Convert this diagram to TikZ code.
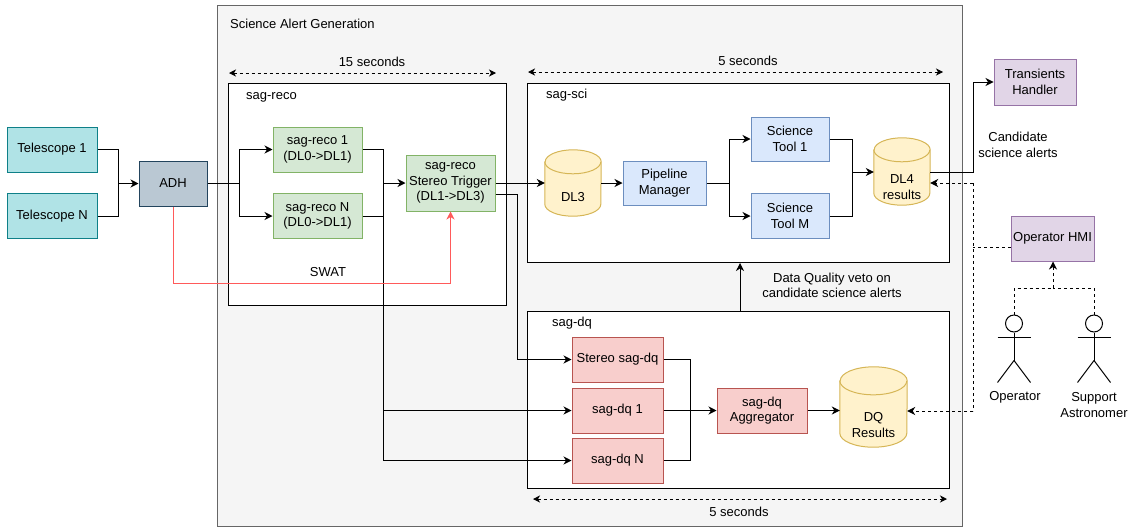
\documentclass[tikz,border=0pt]{standalone}
\usepackage{fontspec}
\setmainfont{Liberation Sans}
\usetikzlibrary{arrows.meta,calc}
\definecolor{telF}{HTML}{B0E3E6}
\definecolor{telD}{HTML}{0E8088}
\definecolor{adhF}{HTML}{BAC8D3}
\definecolor{adhD}{HTML}{23445D}
\definecolor{grF}{HTML}{D5E8D4}
\definecolor{grD}{HTML}{82B366}
\definecolor{blF}{HTML}{DAE8FC}
\definecolor{blD}{HTML}{6C8EBF}
\definecolor{yeF}{HTML}{FFF2CC}
\definecolor{yeD}{HTML}{D6B656}
\definecolor{reF}{HTML}{F8CECC}
\definecolor{reD}{HTML}{B85450}
\definecolor{puF}{HTML}{E1D5E7}
\definecolor{puD}{HTML}{9673A6}
\definecolor{outF}{HTML}{F5F5F5}
\definecolor{outD}{HTML}{666666}
\definecolor{swatC}{HTML}{FF5A5A}
\newcommand\cylpath[3]{%
  \draw[cylstyle] ($(#1.north west)+(0,#3)$) -- ($(#1.south west)+(0,-#3)$)
    arc[start angle=180,end angle=360,x radius=#2pt,y radius=#3pt]
    -- ($(#1.north east)+(0,#3)$)
    arc[start angle=0,end angle=180,x radius=#2pt,y radius=#3pt] -- cycle;
  \draw[cylstyle,fill=none] ($(#1.north west)+(0,#3)$)
    arc[start angle=180,end angle=360,x radius=#2pt,y radius=#3pt];}
\begin{document}
\begin{tikzpicture}[x=1pt,y=-1pt,
  every node/.style={font=\fontsize{13}{15.5}\selectfont},
  box/.style={draw, line width=1pt, inner sep=0pt, align=center},
  tel/.style={box, fill=telF, draw=telD},
  adhs/.style={box, fill=adhF, draw=adhD},
  grn/.style={box, fill=grF, draw=grD},
  blu/.style={box, fill=blF, draw=blD},
  red/.style={box, fill=reF, draw=reD},
  pur/.style={box, fill=puF, draw=puD},
  cont/.style={draw=black, line width=1pt, fill=white, inner sep=0pt, anchor=north west},
  outer/.style={draw=outD, line width=1pt, fill=outF, inner sep=0pt, anchor=north west},
  cylbox/.style={inner sep=0pt, draw=none},
  cylstyle/.style={draw=yeD, fill=yeF, line width=1pt},
  lbl/.style={inner sep=0pt, align=center},
  line/.style={draw=black, line width=1pt},
  flow/.style={line, -{Stealth[length=8pt,width=8pt,inset=2.5pt]}},
  dashl/.style={line, dash pattern=on 3pt off 3pt},
  dashflow/.style={dashl, -{Stealth[length=8pt,width=8pt,inset=2.5pt]}},
  dimarrow/.style={line, dash pattern=on 3pt off 3pt, {Stealth[length=7pt,width=7pt,inset=2pt]}-{Stealth[length=7pt,width=7pt,inset=2pt]}},
  swat/.style={draw=swatC, line width=1pt, -{Stealth[length=8pt,width=8pt,inset=2.5pt]}},
  actor/.style={line width=1pt, draw=black},
]
\useasboundingbox (0,0) rectangle (1134,528);

% containers
\node[outer, minimum width=745pt, minimum height=521pt] (sag) at (217,5) {};
\node[lbl, anchor=west] (sagt) at (230,24) {Science Alert Generation};
\node[cont, minimum width=278pt, minimum height=222pt] (sagreco) at (228,83) {};
\node[lbl, anchor=west] (sagrecot) at (246,97) {sag-reco};
\node[cont, minimum width=422pt, minimum height=179pt] (sagsci) at (527,83) {};
\node[lbl, anchor=west] (sagscit) at (546,95) {sag-sci};
\node[cont, minimum width=422pt, minimum height=177pt] (sagdq) at (527,311) {};
\node[lbl, anchor=west] (sagdqt) at (552,323) {sag-dq};

% duration arrows
\coordinate (d1a) at (229,73); \coordinate (d1b) at (496,73);
\draw[dimarrow] (d1a) -- (d1b);
\node[lbl] (d1t) at (372,62) {15 seconds};
\coordinate (d2a) at (528,72); \coordinate (d2b) at (943,72);
\draw[dimarrow] (d2a) -- (d2b);
\node[lbl] (d2t) at (748,61) {5 seconds};
\coordinate (d3a) at (533,499); \coordinate (d3b) at (947,499);
\draw[dimarrow] (d3a) -- (d3b);
\node[lbl] (d3t) at (739,512) {5 seconds};

% left side
\node[tel, minimum width=90pt, minimum height=45pt] (tel1) at (52,149.5) {Telescope 1};
\node[tel, minimum width=90pt, minimum height=45pt] (telN) at (52,216) {Telescope N};
\node[adhs, minimum width=68pt, minimum height=45pt] (adh) at (173,183.5) {ADH};

% sag-reco
\node[grn, minimum width=89pt, minimum height=45pt] (reco1) at (317.5,149.5) {sag-reco 1\\(DL0->DL1)};
\node[grn, minimum width=89pt, minimum height=45pt] (recoN) at (317.5,216) {sag-reco N\\(DL0->DL1)};
\node[grn, minimum width=89pt, minimum height=56pt] (trig) at (450.5,183) {sag-reco\\Stereo Trigger\\(DL1->DL3)};

% sag-sci
\node[cylbox, minimum width=56pt, minimum height=66pt] (dl3) at (573,183) {};
\cylpath{dl3}{28}{12}
\node[lbl] (dl3t) at (573,197) {DL3};
\node[blu, minimum width=83pt, minimum height=44pt] (pm) at (664.5,183) {Pipeline\\Manager};
\node[blu, minimum width=78pt, minimum height=44pt] (st1) at (790,139) {Science\\Tool 1};
\node[blu, minimum width=78pt, minimum height=45pt] (stM) at (790,216) {Science\\Tool M};
\node[cylbox, minimum width=56pt, minimum height=67pt] (dl4) at (902,171.5) {};
\cylpath{dl4}{28}{12}
\node[lbl] (dl4t) at (902,187) {DL4\\results};

% sag-dq
\node[red, minimum width=91pt, minimum height=45pt] (stereo) at (617.5,359.5) {Stereo sag-dq};
\node[red, minimum width=91pt, minimum height=45pt] (dq1) at (617.5,410.5) {sag-dq 1};
\node[red, minimum width=91pt, minimum height=45pt] (dqN) at (617.5,460.5) {sag-dq N};
\node[red, minimum width=90pt, minimum height=45pt] (agg) at (762,410.5) {sag-dq\\Aggregator};
\node[cylbox, minimum width=67pt, minimum height=80pt] (dqr) at (873.5,407) {};
\cylpath{dqr}{33.5}{14}
\node[lbl] (dqrt) at (873.5,425) {DQ\\Results};

% right side
\node[pur, minimum width=82pt, minimum height=46pt] (th) at (1035,82) {Transients\\Handler};
\node[pur, minimum width=83pt, minimum height=45pt] (hmi) at (1052.5,238.5) {Operator HMI};
\node[lbl] (candt) at (1018,145) {Candidate\\science alerts};
\node[lbl] (vetot) at (832,285.5) {Data Quality veto on\\candidate science alerts};

% actors
\node[draw, circle, line width=1pt, minimum size=17pt, inner sep=0pt] (ophead) at (1014,323.5) {};
\node[draw, circle, line width=1pt, minimum size=17pt, inner sep=0pt] (sahead) at (1094,323.5) {};
\foreach \h in {ophead,sahead}{
  \draw[actor] (\h.south) -- ++(0,28) coordinate (\h hip);
  \draw[actor] ($(\h.south)+(-16.5,5)$) -- ++(33,0);
  \draw[actor] (\h hip) -- ++(-16.5,22);
  \draw[actor] (\h hip) -- ++(16.5,22);
}
\node[lbl] (opt) at (1015,397) {Operator};
\node[lbl] (sat) at (1094,405) {Support\\Astronomer};

% connectors left
\coordinate (j1) at (118,183.5);
\draw[line] (tel1.east) -| (j1);
\draw[line] (telN.east) -| (j1);
\draw[flow] (j1) -- (adh.west);
\coordinate (j2) at (239,183.5);
\draw[line] (adh.east) -- (j2);
\draw[flow] (j2) |- (reco1.west);
\draw[flow] (j2) |- (recoN.west);
\coordinate (j3) at (383,183);
\draw[line] (reco1.east) -| (j3);
\draw[line] (recoN.east) -| (j3);
\draw[flow] (j3) -- (trig.west);
\draw[flow] (j3) |- (dq1.west);
\draw[flow] (j3) |- (dqN.west);
% SWAT
\draw[swat] (adh.south) -- ++(0,77) -| (trig.south);
\node[lbl] (swatt) at (328,272) {SWAT};
% trigger outputs
\draw[flow] (trig.east) -- (dl3.west);
\coordinate (t2) at ($(trig.east)+(0,11)$);
\coordinate (t3) at (517,194);
\draw[flow] (t2) -- (t3) |- (stereo.west);
% sag-sci internals
\draw[flow] (dl3.east) -- (pm.west);
\coordinate (j4) at (729,183);
\draw[line] (pm.east) -- (j4);
\draw[flow] (j4) |- (st1.west);
\draw[flow] (j4) |- (stM.west);
\coordinate (j5) at (852,172);
\draw[line] (st1.east) -| (j5);
\draw[line] (stM.east) -| (j5);
\draw[flow] (j5) -- (dl4.west |- j5);
\coordinate (j6) at (973,172);
\draw[flow] (dl4.east |- j5) -- (j6) |- (th.west);
% sag-dq internals
\coordinate (j7) at (690,410.5);
\draw[line] (stereo.east) -| (j7);
\draw[line] (dqN.east) -| (j7);
\draw[flow] (dq1.east) -- (agg.west);
\draw[flow] (agg.east) -- (dqr.west |- agg);
% veto
\coordinate (v0) at (740,311);
\draw[flow] (v0) -- (v0 |- sagsci.south);
% operator links
\coordinate (k0) at (973,247);
\coordinate (k1) at (973,183);
\coordinate (k2) at (973,411);
\draw[dashl] (hmi.west |- k0) -- (k0);
\draw[dashl] (k1) -- (k2);
\draw[dashflow] (k1) -- (dl4.east |- k1);
\draw[dashflow] (k2) -- (dqr.east |- k2);
\coordinate (a0) at (1053,288);
\draw[dashl] (ophead.north) |- (a0);
\draw[dashl] (sahead.north) |- (a0);
\draw[dashflow] (a0) -- (a0 |- hmi.south);
\end{tikzpicture}
\end{document}
